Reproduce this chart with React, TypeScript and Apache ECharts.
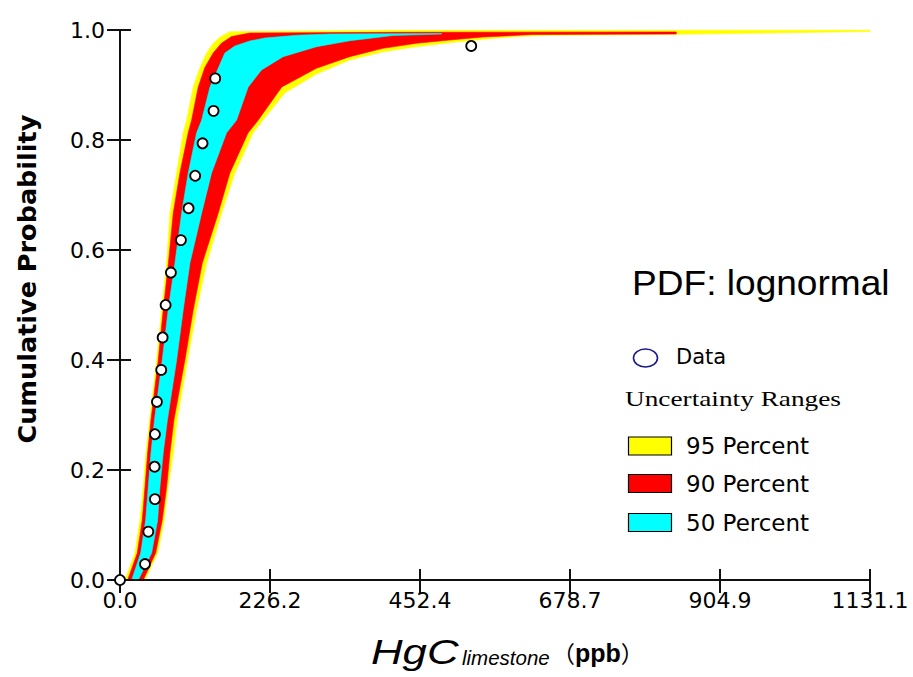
import React, { useEffect, useRef } from "react";
import * as echarts from "echarts";

// Observed data (x in ppb, cumulative probability)
const dataX = [0, 37.7, 42.7, 52.7, 52.2, 52.7, 55.7, 62.2, 64.3, 68.8, 76.8, 91.9, 103.4, 113.4, 124.5, 141.1, 143.6, 529.7];
const dataP = [0, 0.029, 0.088, 0.147, 0.206, 0.265, 0.324, 0.382, 0.441, 0.5, 0.559, 0.618, 0.676, 0.735, 0.794, 0.853, 0.912, 0.971];

// Uncertainty band edges: [x, p]
const band95Lower = [[7.5, 0], [22.6, 0.049], [30.1, 0.109], [35.1, 0.169], [39.2, 0.231], [45.2, 0.296], [55.3, 0.4], [62.8, 0.491], [70.3, 0.576], [75.3, 0.667], [85.4, 0.74], [95.3, 0.813], [100.5, 0.836], [110.4, 0.896], [120.0, 0.93], [130.6, 0.958], [140.0, 0.975], [150.6, 0.987], [165.7, 0.997], [421.7, 0.9995], [1131.1, 0.9995]];
const band95Upper = [[37.7, 0], [56.8, 0.049], [66.7, 0.109], [72.7, 0.169], [80.3, 0.231], [86.9, 0.296], [102.0, 0.4], [115.5, 0.491], [130.6, 0.576], [153.2, 0.667], [173.2, 0.74], [200.8, 0.813], [215.4, 0.836], [248.5, 0.8855], [296.3, 0.92], [346.4, 0.9455], [396.6, 0.9605], [446.9, 0.9696], [497.0, 0.9769], [547.2, 0.9831], [597.5, 0.9882], [647.6, 0.9904], [712.4, 0.9909], [838.9, 0.9922], [979.0, 0.9945], [1131.1, 0.9973]];
const band90Lower = [[11.6, 0], [26.1, 0.049], [33.6, 0.109], [37.7, 0.169], [41.7, 0.231], [46.7, 0.291], [57.7, 0.4], [65.2, 0.491], [73.0, 0.576], [80.3, 0.667], [90.4, 0.74], [102.9, 0.813], [108.0, 0.836], [117.9, 0.896], [128.0, 0.932], [140.5, 0.958], [153.0, 0.976], [168.2, 0.988], [195.8, 0.9945], [421.7, 0.9958], [838.9, 0.9964]];
const band90Upper = [[35.1, 0], [53.8, 0.049], [63.7, 0.109], [70.3, 0.169], [75.3, 0.231], [81.3, 0.291], [97.9, 0.4], [110.4, 0.491], [124.0, 0.576], [148.1, 0.667], [165.7, 0.74], [193.2, 0.813], [208.3, 0.836], [244.0, 0.8964], [296.3, 0.9304], [346.4, 0.9515], [396.6, 0.9667], [446.9, 0.9758], [497.0, 0.9818], [547.2, 0.9873], [622.5, 0.9918], [712.4, 0.9922], [838.9, 0.9927]];
const band50Lower = [[17.6, 0], [31.2, 0.049], [38.7, 0.109], [42.6, 0.169], [46.7, 0.231], [52.0, 0.291], [63.7, 0.4], [72.7, 0.491], [82.8, 0.576], [92.9, 0.667], [102.9, 0.74], [115.5, 0.813], [123.1, 0.836], [135.6, 0.896], [158.1, 0.958], [173.2, 0.9709], [195.8, 0.98], [218.4, 0.9855], [266.6, 0.9904], [316.3, 0.9927], [485.0, 0.9936]];
const band50Upper = [[27.6, 0], [47.7, 0.049], [56.8, 0.109], [60.2, 0.169], [65.2, 0.231], [71.5, 0.291], [85.4, 0.4], [95.3, 0.491], [105.4, 0.576], [123.1, 0.667], [138.1, 0.74], [160.7, 0.813], [175.8, 0.836], [193.2, 0.896], [213.4, 0.9273], [246.0, 0.9515], [296.3, 0.9696], [346.4, 0.9805], [411.6, 0.99], [485.0, 0.9927]];

const legendLabels = ["95 Percent", "90 Percent", "50 Percent"];
const legendColors = ["#ffff00", "#ff0000", "#00ffff"];

const X_MIN = 0;
const X_MAX = 1131.1;
const X_INTERVAL = 226.22;
const Y_MIN = 0;
const Y_MAX = 1;
const Y_INTERVAL = 0.2;

function bandRenderer(lower: number[][], upper: number[][], color: string) {
  return (_params: any, api: any) => {
    const pts = [
      ...lower.map((p) => api.coord(p)),
      ...upper.slice().reverse().map((p) => api.coord(p)),
    ];
    return {
      type: "polygon",
      shape: { points: pts },
      style: { fill: color, stroke: color, lineWidth: 0.6 },
    };
  };
}

export default function App() {
  const ref = useRef<HTMLDivElement>(null);
  useEffect(() => {
    if (!ref.current) return;
    const chart = echarts.init(ref.current, null, { renderer: "svg" });
    const axisColor = "#111";
    const tickFont = { fontFamily: "DejaVu Sans", fontSize: 22, color: "#000" };
    const legendY = [446, 483.5, 522.5];
    const graphics: any[] = [
      {
        type: "text",
        x: 27,
        y: 279,
        rotation: Math.PI / 2,
        style: {
          text: "Cumulative Probability",
          fontFamily: "DejaVu Sans",
          fontWeight: "bold",
          fontSize: 25.5,
          fill: "#000",
          align: "center",
          verticalAlign: "middle",
        },
      },
      {
        type: "text",
        x: 371,
        y: 652,
        scaleX: 1.25,
        style: {
          text: "HgC",
          fontFamily: "Liberation Sans",
          fontStyle: "italic",
          fontSize: 35,
          fill: "#000",
          align: "left",
          verticalAlign: "middle",
        },
      },
      {
        type: "text",
        x: 462,
        y: 657,
        style: {
          text: "limestone",
          fontFamily: "Liberation Sans",
          fontStyle: "italic",
          fontSize: 20.5,
          fill: "#000",
          align: "left",
          verticalAlign: "middle",
        },
      },
      {
        type: "text",
        x: 552,
        y: 653,
        style: {
          text: "{p|（}{b|ppb}{p|）}",
          fill: "#000",
          align: "left",
          verticalAlign: "middle",
          rich: {
            p: { fontFamily: "Noto Sans CJK SC", fontSize: 23, fill: "#000" },
            b: { fontFamily: "Liberation Sans", fontWeight: "bold", fontSize: 25, fill: "#000" },
          },
        },
      },
      {
        type: "text",
        x: 632,
        y: 283,
        scaleX: 1.06,
        style: {
          text: "PDF: lognormal",
          fontFamily: "Liberation Sans",
          fontSize: 35,
          fill: "#000",
          align: "left",
          verticalAlign: "middle",
        },
      },
      {
        type: "ellipse",
        shape: { cx: 645.5, cy: 358, rx: 12, ry: 9 },
        style: { fill: "none", stroke: "#1a1a8c", lineWidth: 1.6 },
      },
      {
        type: "text",
        x: 676,
        y: 357,
        style: {
          text: "Data",
          fontFamily: "DejaVu Sans",
          fontSize: 21,
          fill: "#000",
          align: "left",
          verticalAlign: "middle",
        },
      },
      {
        type: "text",
        x: 625,
        y: 399,
        scaleX: 1.3,
        style: {
          text: "Uncertainty Ranges",
          fontFamily: "Liberation Serif",
          fontSize: 21,
          fill: "#000",
          align: "left",
          verticalAlign: "middle",
        },
      },
    ];
    legendLabels.forEach((label, i) => {
      graphics.push({
        type: "rect",
        shape: { x: 628.5, y: legendY[i] - 9, width: 43, height: 18 },
        style: { fill: legendColors[i], stroke: "#000", lineWidth: 1.2 },
      });
      graphics.push({
        type: "text",
        x: 686,
        y: legendY[i],
        style: {
          text: label,
          fontFamily: "DejaVu Sans",
          fontSize: 23,
          fill: "#000",
          align: "left",
          verticalAlign: "middle",
        },
      });
    });

    const baseX = { type: "value", min: X_MIN, max: X_MAX, interval: X_INTERVAL, splitLine: { show: false } };
    const baseY = { type: "value", min: Y_MIN, max: Y_MAX, interval: Y_INTERVAL, splitLine: { show: false } };

    chart.setOption({
      animation: false,
      backgroundColor: "#ffffff",
      grid: { left: 120, right: 43, top: 30, bottom: 97 },
      xAxis: [
        {
          ...baseX,
          position: "bottom",
          z: 5,
          axisLine: { show: true, lineStyle: { color: axisColor, width: 2 } },
          axisTick: { show: true, inside: false, length: 13, lineStyle: { color: axisColor, width: 2 } },
          axisLabel: { ...tickFont, margin: 9, formatter: (v: number) => v.toFixed(1) },
        },
        {
          ...baseX,
          position: "bottom",
          z: 5,
          axisLine: { show: false },
          axisTick: { show: true, inside: true, length: 11, lineStyle: { color: axisColor, width: 2 } },
          axisLabel: { show: false },
        },
      ],
      yAxis: [
        {
          ...baseY,
          position: "left",
          z: 5,
          axisLine: { show: true, lineStyle: { color: axisColor, width: 2 } },
          axisTick: { show: true, inside: false, length: 13, lineStyle: { color: axisColor, width: 2 } },
          axisLabel: { ...tickFont, margin: 15, formatter: (v: number) => v.toFixed(1) },
        },
        {
          ...baseY,
          position: "left",
          z: 5,
          axisLine: { show: false },
          axisTick: { show: true, inside: true, length: 11, lineStyle: { color: axisColor, width: 2 } },
          axisLabel: { show: false },
        },
      ],
      graphic: graphics,
      series: [
        {
          type: "custom",
          name: "95 Percent",
          data: [[0, 0]],
          encode: { x: 0, y: 1 },
          z: 1,
          renderItem: bandRenderer(band95Lower, band95Upper, legendColors[0]),
        },
        {
          type: "custom",
          name: "90 Percent",
          data: [[0, 0]],
          encode: { x: 0, y: 1 },
          z: 2,
          renderItem: bandRenderer(band90Lower, band90Upper, legendColors[1]),
        },
        {
          type: "custom",
          name: "50 Percent",
          data: [[0, 0]],
          encode: { x: 0, y: 1 },
          z: 3,
          renderItem: bandRenderer(band50Lower, band50Upper, legendColors[2]),
        },
        {
          type: "scatter",
          name: "Data",
          z: 10,
          clip: false,
          symbol: "circle",
          symbolSize: 10,
          itemStyle: { color: "#ffffff", borderColor: "#000", borderWidth: 1.8, opacity: 1 },
          data: dataX.map((x, i) => [x, dataP[i]]),
        },
      ],
    });
    return () => chart.dispose();
  }, []);
  return <div ref={ref} style={{ position: "absolute", left: 0, top: 0, width: 913, height: 677 }} />;
}
